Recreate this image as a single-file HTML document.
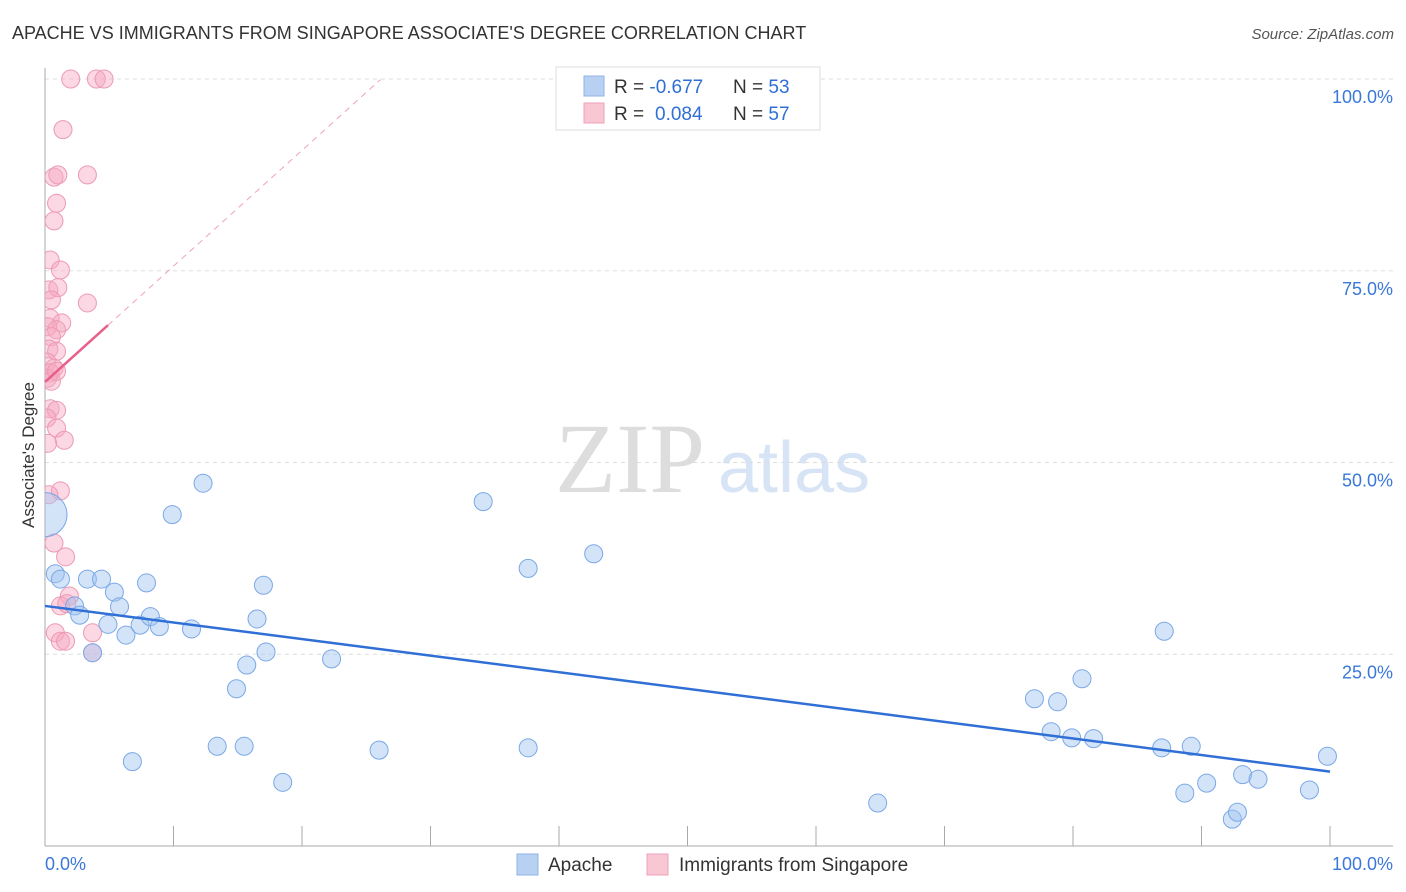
<!DOCTYPE html>
<html><head><meta charset="utf-8"><style>
body{margin:0;background:#fff;font-family:"Liberation Sans",sans-serif}
svg{display:block}
</style></head><body>
<svg id="c" width="1406" height="892">
<defs><clipPath id="plot"><rect x="45" y="60" width="1360" height="786"/></clipPath></defs>
<text x="12" y="39" font-size="18" fill="#333">APACHE VS IMMIGRANTS FROM SINGAPORE ASSOCIATE'S DEGREE CORRELATION CHART</text>
<text x="1394" y="39" font-size="15" fill="#555" font-style="italic" text-anchor="end">Source: ZipAtlas.com</text>
<text x="555" y="492" font-size="100" fill="#ddd" font-family="Liberation Serif,serif">ZIP</text>
<text x="718" y="492" font-size="72" fill="#d6e4f5">atlas</text>
<g id="grid"></g><g id="pink" clip-path="url(#plot)"></g><g id="blue" clip-path="url(#plot)"></g><g id="lines"></g>
<text x="0" y="0" font-size="17" fill="#333" text-anchor="middle" transform="translate(34,455) rotate(-90)">Associate's Degree</text>
<g>
<rect x="556" y="67" width="264" height="63" fill="#fff" stroke="#ddd"/>
<rect x="584" y="76" width="20" height="20" fill="#b8d1f3" stroke="#8fb3e6"/>
<rect x="584" y="103" width="20" height="20" fill="#f9c6d4" stroke="#f0a0b8"/>
<text x="614" y="93" font-size="19" fill="#333">R = <tspan fill="#2f6fd6">-0.677</tspan><tspan x="733">N = </tspan><tspan fill="#2f6fd6">53</tspan></text>
<text x="614" y="120" font-size="19" fill="#333">R = <tspan x="655" fill="#2f6fd6">0.084</tspan><tspan x="733">N = </tspan><tspan fill="#2f6fd6">57</tspan></text>
</g>
<g>
<rect x="517" y="854" width="21" height="21" fill="#b8d1f3" stroke="#8fb3e6"/>
<text x="548" y="871" font-size="19" fill="#333">Apache</text>
<rect x="647" y="854" width="21" height="21" fill="#f9c6d4" stroke="#f0a0b8"/>
<text x="679" y="871" font-size="19" fill="#333">Immigrants from Singapore</text>
</g>
</svg>
<script>
const blueX=[0.8,1.2,2.3,2.7,3.3,3.7,4.4,4.9,5.4,5.8,6.3,6.8,7.4,7.9,8.2,8.9,9.9,11.4,12.3,13.4,14.9,15.5,15.7,16.5,17.0,17.2,18.5,22.3,26.0,34.1,37.6,37.6,42.7,64.8,77.0,78.3,78.8,79.9,80.7,81.6,86.9,87.1,88.7,89.2,90.4,92.4,92.8,93.2,94.4,98.4,99.8];
const blueY=[35.5,34.8,31.3,30.1,34.8,25.2,34.8,28.9,33.1,31.2,27.5,11.0,28.8,34.3,29.9,28.6,43.2,28.3,47.3,13.0,20.5,13.0,23.6,29.6,34.0,25.3,8.3,24.4,12.5,44.9,36.2,12.8,38.1,5.6,19.2,14.9,18.8,14.1,21.8,14.0,12.8,28.0,6.9,13.0,8.2,3.5,4.4,9.3,8.7,7.3,11.7];
const pinkX=[2.0,4.0,4.6,1.4,0.7,1.0,3.3,0.9,0.7,0.4,1.2,0.3,1.0,0.5,3.3,0.4,1.3,0.2,0.9,0.5,0.3,0.9,0.15,0.7,0.4,0.2,0.5,0.9,0.4,0.9,0.15,0.9,1.5,0.2,1.2,0.3,0.7,1.6,1.9,1.2,1.7,0.8,3.7,1.2,1.6,3.7];
const pinkY=[100,100,100,93.4,87.2,87.5,87.5,83.8,81.5,76.4,75.1,72.5,72.8,71.2,70.8,68.8,68.2,67.7,67.3,66.4,64.8,64.5,63.1,62.3,61.7,61.0,60.6,61.9,57.0,56.8,55.8,54.5,52.9,52.5,46.3,45.8,39.5,37.7,32.6,31.3,31.6,27.8,27.8,26.7,26.7,25.2];
const yTicks=[25,50,75,100];
const blueTrend=[31.3,9.7];
const pinkTrend=[60.5,1.51];
const X=v=>45+v*12.85, Y=v=>846-v*7.67;
const NS="http://www.w3.org/2000/svg";
function mk(t,p,a){const e=document.createElementNS(NS,t);for(const k in a)e.setAttribute(k,a[k]);p.appendChild(e);return e;}
const g=document.getElementById('grid');
for(const t of yTicks){
 const l=mk('line',g,{x1:45,x2:1393,y1:Y(t),y2:Y(t),stroke:'#ddd','stroke-dasharray':'4,4'});
 
 
 const tx=mk('text',g,{x:1393,y:Y(t)+24,'font-size':18,fill:'#3a78d8','text-anchor':'end'});tx.textContent=t.toFixed(1)+'%';
 
 
}
const ax=mk('line',g,{x1:45,x2:45,y1:68,y2:846,stroke:'#aaa'});


const bx=mk('line',g,{x1:45,x2:1393,y1:846,y2:846,stroke:'#aaa'});


for(let i=0;i<=10;i++){const tk=mk('line',g,{x1:X(i*10),x2:X(i*10),y1:826,y2:846,stroke:'#aaa'});
 
 }
const x0=mk('text',g,{x:45,y:870,'font-size':18,fill:'#3a78d8'});x0.textContent='0.0%';


const x1=mk('text',g,{x:1393,y:870,'font-size':18,fill:'#3a78d8','text-anchor':'end'});x1.textContent='100.0%';


const pg=document.getElementById('pink');
pinkX.forEach((v,i)=>{const c=mk('circle',pg,{cx:X(v),cy:Y(pinkY[i]),r:9,fill:'rgba(246,168,192,0.45)',stroke:'#ec9ab4'});
 
 });
const bg=document.getElementById('blue');
const big=mk('circle',bg,{cx:X(0),cy:Y(43.2),r:22,fill:'rgba(160,195,240,0.45)',stroke:'#7aa8e6'});


blueX.forEach((v,i)=>{const c=mk('circle',bg,{cx:X(v),cy:Y(blueY[i]),r:9,fill:'rgba(160,195,240,0.45)',stroke:'#7aa8e6'});
 
 });
const lg=document.getElementById('lines');
const bl=mk('line',lg,{x1:X(0),y1:Y(blueTrend[0]),x2:X(100),y2:Y(blueTrend[1]),stroke:'#2f6fd6','stroke-width':2.5});


const pd=mk('line',lg,{x1:X(4.9),y1:Y(pinkTrend[0]+pinkTrend[1]*4.9),x2:X(26.1),y2:Y(pinkTrend[0]+pinkTrend[1]*26.1),stroke:'#f0a0b8','stroke-width':1,'stroke-dasharray':'6,5'});


const pl=mk('line',lg,{x1:X(0),y1:Y(pinkTrend[0]),x2:X(4.9),y2:Y(pinkTrend[0]+pinkTrend[1]*4.9),stroke:'#e8608a','stroke-width':2.5});


</script>
</body></html>
